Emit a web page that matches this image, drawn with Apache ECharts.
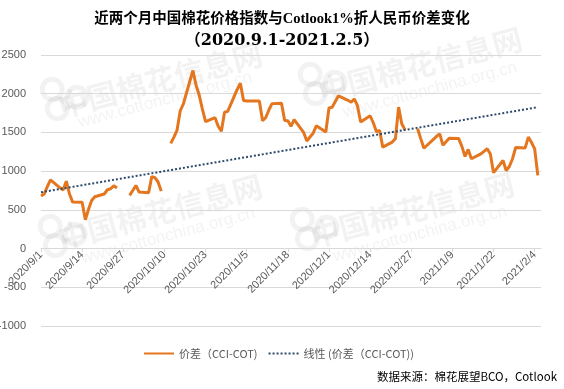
<!DOCTYPE html>
<html>
<head>
<meta charset="utf-8">
<script src="https://cdn.jsdelivr.net/npm/echarts@6/dist/echarts.min.js"></script>
<style>html,body{margin:0;padding:0;background:#fff;}#c{width:564px;height:389px;}</style>
</head>
<body>
<div id="c"></div>
<script>
// ---- data ----
const titleLine1 = '近两个月中国棉花价格指数与Cotlook1%折人民币价差变化';
const titleLine2 = '（2020.9.1-2021.2.5）';
const sourceText = '数据来源：棉花展望BCO，Cotlook';
const seriesName = '价差（CCI-COT)';
const trendName = '线性 (价差（CCI-COT))';

const axisStart = '2020/9/1';
const axisEnd = '2021/2/6';
const labelEvery = 13; // days between x labels

const yTicks = [-1000, -500, 0, 500, 1000, 1500, 2000, 2500];

const tradeDates = [
  '2020/9/1','2020/9/2','2020/9/3','2020/9/4','2020/9/7','2020/9/8','2020/9/9','2020/9/10','2020/9/11',
  '2020/9/14','2020/9/15','2020/9/16','2020/9/17','2020/9/18','2020/9/21','2020/9/22','2020/9/23','2020/9/24','2020/9/25',
  '2020/9/28',
  '2020/9/29','2020/9/30','2020/10/1','2020/10/2','2020/10/5','2020/10/6','2020/10/7','2020/10/8','2020/10/9',
  '2020/10/10',
  '2020/10/12','2020/10/13','2020/10/14','2020/10/15','2020/10/16','2020/10/19','2020/10/20','2020/10/21','2020/10/22','2020/10/23',
  '2020/10/26','2020/10/27','2020/10/28','2020/10/29','2020/10/30','2020/11/2','2020/11/3','2020/11/4','2020/11/5','2020/11/6',
  '2020/11/9','2020/11/10','2020/11/11','2020/11/12','2020/11/13','2020/11/16','2020/11/17','2020/11/18','2020/11/19','2020/11/20',
  '2020/11/23','2020/11/24','2020/11/25','2020/11/26','2020/11/27','2020/11/30','2020/12/1','2020/12/2','2020/12/3','2020/12/4',
  '2020/12/7','2020/12/8','2020/12/9','2020/12/10','2020/12/11','2020/12/14','2020/12/15','2020/12/16','2020/12/17','2020/12/18',
  '2020/12/21','2020/12/22','2020/12/23','2020/12/24','2020/12/25',
  '2020/12/28',
  '2020/12/29','2020/12/30','2020/12/31','2021/1/4','2021/1/5','2021/1/6','2021/1/7','2021/1/8',
  '2021/1/11','2021/1/12','2021/1/13','2021/1/14','2021/1/15','2021/1/18','2021/1/19','2021/1/20','2021/1/21','2021/1/22',
  '2021/1/25','2021/1/26','2021/1/27','2021/1/28','2021/1/29','2021/2/1','2021/2/2','2021/2/3','2021/2/4','2021/2/5'
];
const spreadValues = [
  680,705,800,888,785,758,870,705,600,
  598,372,505,620,670,705,760,772,812,782,
  null,
  688,750,815,730,720,930,915,860,742,
  null,
  1358,1440,1530,1780,1870,2300,2110,1980,1800,1640,
  1690,1580,1515,1760,1772,2055,2135,1912,1905,1905,
  1905,1652,1690,1790,1872,1877,1655,1650,1580,1665,
  1500,1390,1440,1490,1585,1505,1815,1825,1900,1973,
  1915,1890,1932,1845,1635,1715,1625,1510,1525,1310,
  1375,1420,1828,1612,1535,
  null,
  1548,1420,1296,1450,1482,1335,1380,1425,
  1420,1320,1190,1280,1160,1222,1255,1290,1222,980,
  1137,1008,1060,1160,1305,1300,1440,1370,1288,945
];
// linear trend line: end points
const trendDates = ['2020/9/1', '2021/2/5'];
const trendValues = [727, 1826];

// ---- build calendar-day categories ----
function fmt(d){ return d.getFullYear() + '/' + (d.getMonth()+1) + '/' + d.getDate(); }
const days = [];
{
  const p = axisStart.split('/').map(Number), q = axisEnd.split('/').map(Number);
  let d = new Date(p[0], p[1]-1, p[2]);
  const e = new Date(q[0], q[1]-1, q[2]);
  while (d <= e) { days.push(fmt(d)); d = new Date(d.getFullYear(), d.getMonth(), d.getDate()+1); }
}
const spreadData = tradeDates.map((d,i) => [d, spreadValues[i] === null ? '-' : spreadValues[i]]);
const trendData = trendDates.map((d,i) => [d, trendValues[i]]);

const chart = echarts.init(document.getElementById('c'), null, {renderer:'canvas'});
const wmColor = 'rgba(0,0,0,0.05)';
function wm(x, y, big){
  return big
    ? {type:'text', x:x, y:y, rotation:0.26, z:-10, silent:true,
       style:{text:'中国棉花信息网', fill:wmColor, font:'bold 30px "Noto Sans CJK SC"', textAlign:'center', textVerticalAlign:'middle'}}
    : {type:'text', x:x, y:y, rotation:0.26, z:-10, silent:true,
       style:{text:'www.cottonchina.org.cn', fill:wmColor, font:'17px "Liberation Sans"', textAlign:'center', textVerticalAlign:'middle'}};
}
function ring(x, y){
  return {type:'group', x:x, y:y, rotation:0.26, z:-10, silent:true, children:[
    {type:'circle', shape:{cx:-8, cy:-8, r:10}, style:{fill:'none', stroke:wmColor, lineWidth:5}},
    {type:'circle', shape:{cx:-8, cy:12, r:10}, style:{fill:'none', stroke:wmColor, lineWidth:5}},
    {type:'circle', shape:{cx:14, cy:6, r:10}, style:{fill:'none', stroke:wmColor, lineWidth:5}}
  ]};
}

// plot area: y=55 (2500) .. y=326 (-1000); zero line at y=248
const G = {left:41, right:23, top:55, bottom:63};
const zeroBottom = 389 - 248;

chart.setOption({
  animation:false,
  backgroundColor:'#fff',
  title:[
    {text:titleLine1, left:'center', top:7,
     textStyle:{fontSize:14.5, fontWeight:'bold', color:'#000', fontFamily:'"Liberation Serif","Noto Sans CJK SC"'}},
    {text:titleLine2, left:'center', top:28,
     textStyle:{fontSize:16, fontWeight:'bold', color:'#000', fontFamily:'"DejaVu Serif","Noto Sans CJK SC"'}}
  ],
  graphic:[
    ring(62, 95), wm(160, 80, true), wm(165, 100, false),
    ring(320, 80), wm(420, 65, true), wm(430, 90, false),
    ring(60, 232), wm(160, 212, true), wm(168, 236, false),
    ring(312, 225), wm(412, 210, true), wm(420, 234, false),
    {type:'text', right:7, top:371, z:100,
     style:{text:sourceText, fill:'#000', font:'11.5px "Noto Sans CJK SC"'}}
  ],
  legend:{
    left:138, top:343, itemWidth:30, itemHeight:10, itemGap:10,
    itemStyle:{opacity:0, color:'rgba(0,0,0,0)', borderWidth:0},
    textStyle:{fontSize:11, color:'#595959', fontFamily:'"Noto Sans CJK SC"'},
    data:[seriesName, trendName]
  },
  grid:[
    {left:G.left, right:G.right, top:G.top, bottom:G.bottom, outerBoundsMode:'none', containLabel:false},
    {left:G.left, right:G.right, top:G.top, bottom:zeroBottom, outerBoundsMode:'none', containLabel:false}
  ],
  xAxis:[
    {type:'category', gridIndex:0, data:days, boundaryGap:false,
     axisLine:{show:false}, axisTick:{show:false}, axisLabel:{show:false}, splitLine:{show:false}},
    {type:'category', gridIndex:1, data:days, boundaryGap:false, position:'bottom',
     axisLine:{onZero:false, lineStyle:{color:'#d9d9d9', width:1}},
     axisTick:{show:true, interval:labelEvery-1, length:4, lineStyle:{color:'#d9d9d9'}},
     axisLabel:{interval:labelEvery-1, rotate:45, fontSize:11, color:'#595959', margin:5, fontFamily:'"Liberation Sans"'},
     splitLine:{show:false}}
  ],
  yAxis:[
    {type:'value', gridIndex:0, min:yTicks[0], max:yTicks[yTicks.length-1], interval:500,
     axisLine:{show:false}, axisTick:{show:false},
     axisLabel:{fontSize:11, color:'#595959', margin:15, fontFamily:'"Liberation Sans"', formatter:v => String(v)},
     splitLine:{lineStyle:{color:'#d9d9d9', width:1}}},
    {type:'value', gridIndex:1, min:0, max:yTicks[yTicks.length-1], show:false}
  ],
  series:[
    {name:seriesName, type:'line', xAxisIndex:0, yAxisIndex:0, data:spreadData, symbol:'none', connectNulls:false, z:3,
     lineStyle:{color:'#E3761E', width:3}, itemStyle:{color:'#E3761E'}},
    {name:trendName, type:'line', xAxisIndex:0, yAxisIndex:0, data:trendData, symbol:'none', z:4,
     lineStyle:{color:'#2E4A6B', width:2, type:[2,2]}, itemStyle:{color:'#2E4A6B'}}
  ]
});
</script>
</body>
</html>
